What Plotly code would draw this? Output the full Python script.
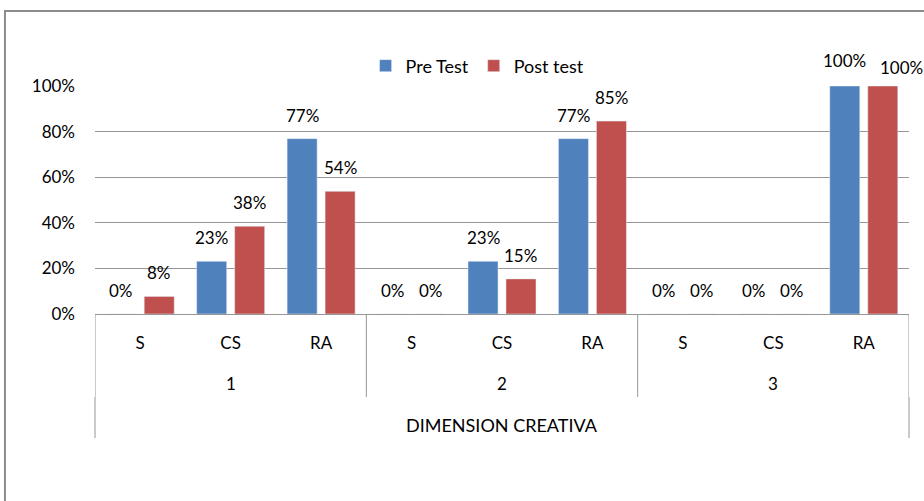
import plotly.graph_objects as go

# Data
groups = ["1", "2", "3"]
levels = ["S", "CS", "RA", "S", "CS", "RA", "S", "CS", "RA"]
pre_test = [0, 0.231, 0.769, 0, 0.231, 0.769, 0, 0, 1.0]
post_test = [0.077, 0.385, 0.538, 0, 0.154, 0.846, 0, 0, 1.0]
y_ticks = [0, 0.2, 0.4, 0.6, 0.8, 1.0]
dimension_label = "DIMENSION CREATIVA"

BLUE = "#4F81BD"
RED = "#C0504D"
GRID = "#969696"
FONT = "Lato"
FS = 17

BARGAP = 0.16
BARGROUPGAP = 0.21

x = list(range(len(levels)))
per_group = len(levels) // len(groups)

fig = go.Figure()

fig.add_trace(go.Bar(x=x, y=pre_test, name="Pre Test", marker_color=BLUE))
fig.add_trace(go.Bar(x=x, y=post_test, name="Post test", marker_color=RED))

# value labels above each bar
half_slot = (1 - BARGAP) / 4
for vals, other, off, is_post in ((pre_test, post_test, -half_slot, False),
                                  (post_test, pre_test, half_slot, True)):
    for xi, v, o in zip(x, vals, other):
        # two full bars side by side: nudge the labels apart like Excel does
        crowded = v >= 1 and o >= 1
        fig.add_annotation(
            x=xi + off, y=v, xref="x", yref="y",
            text=f"{v:.0%}", showarrow=False,
            yanchor="bottom",
            yshift=(6 if is_post else 13) if crowded else 11,
            xshift=(19 if is_post else 0) if crowded else 0,
            font=dict(family=FONT, size=FS, color="black"),
        )

fig.update_layout(
    width=924,
    height=501,
    margin=dict(l=95, r=15, t=86, b=187),
    paper_bgcolor="white",
    plot_bgcolor="white",
    barmode="group",
    bargap=BARGAP,
    bargroupgap=BARGROUPGAP,
    font=dict(family=FONT, size=FS, color="black"),
    showlegend=True,
    legend=dict(
        orientation="h",
        x=0.47,
        xanchor="center",
        y=1.088,
        yanchor="middle",
        font=dict(family=FONT, size=18),
        itemwidth=30,
    ),
)

fig.update_yaxes(
    range=[0, 1],
    tickvals=y_ticks,
    tickformat=".0%",
    showgrid=True,
    gridcolor=GRID,
    gridwidth=1,
    zeroline=False,
    showline=False,
    ticklabelstandoff=19,
    tickfont=dict(family=FONT, size=FS),
)

fig.update_xaxes(
    range=[-0.5, len(levels) - 0.5],
    tickvals=x,
    ticktext=levels,
    showgrid=False,
    zeroline=False,
    showline=True,
    linecolor=GRID,
    linewidth=1,
    ticklabelstandoff=14,
    tickfont=dict(family=FONT, size=FS),
)

# second level: group labels and dividers
for gi, g in enumerate(groups):
    fig.add_annotation(
        text=g, x=gi * per_group + (per_group - 1) / 2, xref="x",
        y=-0.307, yref="paper", yanchor="middle", showarrow=False,
        font=dict(family=FONT, size=FS),
    )
for gi in range(len(groups) + 1):
    fig.add_shape(type="line", xref="x", yref="paper",
                  x0=gi * per_group - 0.5, x1=gi * per_group - 0.5,
                  y0=0, y1=-0.364, line=dict(color=GRID, width=1))

# third level
fig.add_annotation(
    text=dimension_label, x=0.5, xref="paper",
    y=-0.487, yref="paper", yanchor="middle", showarrow=False,
    font=dict(family=FONT, size=18),
)
for xp in (0, 1):
    fig.add_shape(type="line", xref="paper", yref="paper",
                  x0=xp, x1=xp, y0=-0.364, y1=-0.544,
                  line=dict(color=GRID, width=1))

# chart frame
fig.add_shape(type="rect", xref="paper", yref="paper",
              x0=-0.1106, x1=1.05, y0=1.329, y1=-0.86,
              line=dict(color="#8c8c8c", width=2), layer="below")

fig.write_html("out.html", config={"displayModeBar": False},
               post_script="document.body.style.margin='0';")
